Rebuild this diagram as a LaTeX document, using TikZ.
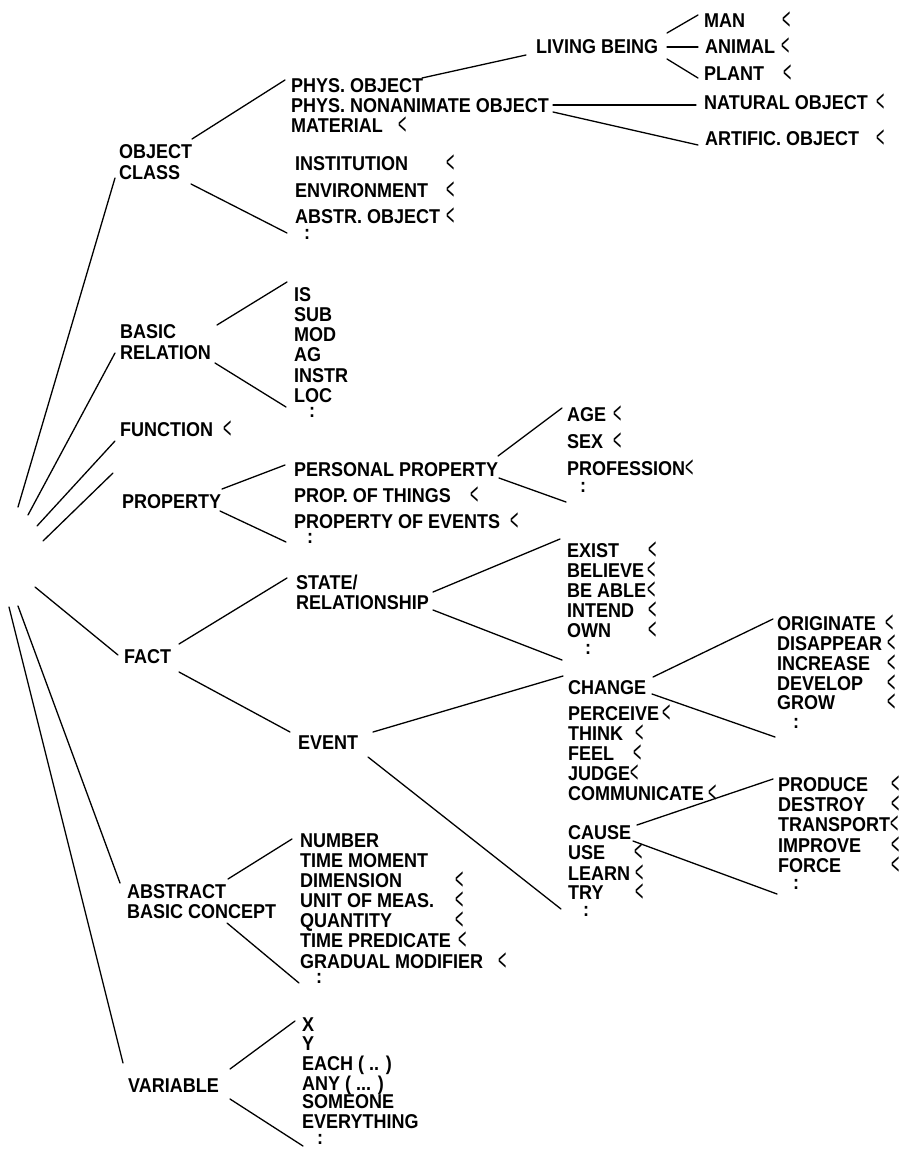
\documentclass[tikz,border=0pt]{standalone}
\usepackage{fontspec}
\usepackage{graphicx}
\setmainfont{Liberation Sans}[FakeStretch=0.9]
\newfontfamily\markfamily{Liberation Sans}
\newcommand\lblfont{\bfseries\fontsize{20}{21}\selectfont}
\newcommand\markfont{\markfamily\fontsize{19}{20}\selectfont}
\newcommand\lessmark{\raisebox{-2pt}{\scalebox{0.75}[1.6]{<}}}
\tikzset{
  lbl/.style={anchor=base west, inner sep=0pt, font=\lblfont},
  lm/.style={anchor=base west, inner sep=0pt, font=\markfont},
  cont/.style={anchor=center, inner sep=0pt, font=\lblfont},
  edge/.style={line width=1.3pt, line cap=round},
}
\begin{document}
\begin{tikzpicture}[x=1pt, y=-1pt]
\useasboundingbox (0,0) rectangle (900,1149);

% ---------------- first level ----------------
\node[lbl] (objA) at (119,158) {OBJECT};
\node[lbl] (objB) at (119,179) {CLASS};
\node[lbl] (relA) at (120,338) {BASIC};
\node[lbl] (relB) at (120,359) {RELATION};
\node[lbl] (func) at (120,436) {FUNCTION};
\node[lm]  (funcm) at (223,436) {\lessmark};
\node[lbl] (prop) at (122,508) {PROPERTY};
\node[lbl] (fact) at (124,663) {FACT};
\node[lbl] (absA) at (127,898) {ABSTRACT};
\node[lbl] (absB) at (127,918) {BASIC CONCEPT};
\node[lbl] (var)  at (128,1092) {VARIABLE};

% root fan
\coordinate (r1) at (18,507);  \coordinate (r1e) at (115,178);
\coordinate (r2) at (28,515);  \coordinate (r2e) at (115,353);
\coordinate (r3) at (37,526);  \coordinate (r3e) at (115,441);
\coordinate (r4) at (43,541);  \coordinate (r4e) at (113,473);
\coordinate (r5) at (35,587);  \coordinate (r5e) at (118,655);
\coordinate (r6) at (18,606);  \coordinate (r6e) at (120,883);
\coordinate (r7) at (9,607);   \coordinate (r7e) at (123,1063);
\foreach \i in {1,...,7} \draw[edge] (r\i) -- (r\i e);

% ---------------- object class ----------------
\node[lbl] (pobj) at (291,92)  {PHYS. OBJECT};
\node[lbl] (pnon) at (291,112) {PHYS. NONANIMATE OBJECT};
\node[lbl] (mat)  at (291,132) {MATERIAL};
\node[lm]  (matm) at (398,132) {\lessmark};
\node[lbl] (inst) at (295,170) {INSTITUTION};
\node[lm]  (instm) at (446,170) {\lessmark};
\node[lbl] (env)  at (295,197) {ENVIRONMENT};
\node[lm]  (envm) at (446,197) {\lessmark};
\node[lbl] (aobj) at (295,223) {ABSTR. OBJECT};
\node[lm]  (aobjm) at (446,223) {\lessmark};
\node[cont] (objc) at (307,234) {:};

\node[lbl] (liv) at (536,53) {LIVING BEING};
\node[lbl] (man) at (704,27) {MAN};
\node[lm]  (manm) at (782,27) {\lessmark};
\node[lbl] (ani) at (705,53) {ANIMAL};
\node[lm]  (anim) at (781,53) {\lessmark};
\node[lbl] (pla) at (704,80) {PLANT};
\node[lm]  (plam) at (783,80) {\lessmark};
\node[lbl] (nat) at (704,109) {NATURAL OBJECT};
\node[lm]  (natm) at (876,109) {\lessmark};
\node[lbl] (art) at (705,145) {ARTIFIC. OBJECT};
\node[lm]  (artm) at (876,145) {\lessmark};

\coordinate (oc1) at (192,139); \coordinate (oc1e) at (285,80);
\coordinate (oc2) at (191,184); \coordinate (oc2e) at (287,233);
\coordinate (po1) at (422,78);  \coordinate (po1e) at (526,55);
\coordinate (lb1) at (667,33);  \coordinate (lb1e) at (698,15);
\coordinate (lb2) at (667,47);  \coordinate (lb2e) at (698,47);
\coordinate (lb3) at (667,59);  \coordinate (lb3e) at (698,78);
\coordinate (pn1) at (553,105); \coordinate (pn1e) at (696,105);
\coordinate (pn2) at (553,112); \coordinate (pn2e) at (698,145);
\foreach \a in {oc1,oc2,po1,lb1,lb2,lb3,pn1,pn2} \draw[edge] (\a) -- (\a e);

% ---------------- basic relation ----------------
\node[lbl] (is)  at (294,301) {IS};
\node[lbl] (sub) at (294,321) {SUB};
\node[lbl] (mod) at (294,341) {MOD};
\node[lbl] (ag)  at (294,361) {AG};
\node[lbl] (ins) at (294,382) {INSTR};
\node[lbl] (loc) at (294,402) {LOC};
\node[cont] (relc) at (312,412) {:};
\coordinate (br1) at (217,325); \coordinate (br1e) at (287,282);
\coordinate (br2) at (215,363); \coordinate (br2e) at (286,407);
\draw[edge] (br1) -- (br1e);
\draw[edge] (br2) -- (br2e);

% ---------------- property ----------------
\node[lbl] (pers) at (294,476) {PERSONAL PROPERTY};
\node[lbl] (thin) at (294,502) {PROP. OF THINGS};
\node[lm]  (thinm) at (470,502) {\lessmark};
\node[lbl] (evp)  at (294,528) {PROPERTY OF EVENTS};
\node[lm]  (evpm) at (510,528) {\lessmark};
\node[cont] (propc) at (310,538) {:};
\node[lbl] (age) at (567,421) {AGE};
\node[lm]  (agem) at (613,421) {\lessmark};
\node[lbl] (sex) at (567,448) {SEX};
\node[lm]  (sexm) at (613,448) {\lessmark};
\node[lbl] (prof) at (567,475) {PROFESSION};
\node[lm]  (profm) at (685,475) {\lessmark};
\node[cont] (persc) at (583,487) {:};
\coordinate (pr1) at (222,489); \coordinate (pr1e) at (285,465);
\coordinate (pr2) at (220,511); \coordinate (pr2e) at (286,542);
\coordinate (pp1) at (498,456); \coordinate (pp1e) at (562,408);
\coordinate (pp2) at (499,478); \coordinate (pp2e) at (566,502);
\foreach \a in {pr1,pr2,pp1,pp2} \draw[edge] (\a) -- (\a e);

% ---------------- fact ----------------
\node[lbl] (stA) at (296,589) {STATE/};
\node[lbl] (stB) at (296,609) {RELATIONSHIP};
\node[lbl] (event) at (298,749) {EVENT};

\node[lbl] (exist) at (567,557) {EXIST};
\node[lm]  (existm) at (648,557) {\lessmark};
\node[lbl] (beli) at (567,577) {BELIEVE};
\node[lm]  (belim) at (647,577) {\lessmark};
\node[lbl] (able) at (567,597) {BE ABLE};
\node[lm]  (ablem) at (647,597) {\lessmark};
\node[lbl] (inte) at (567,617) {INTEND};
\node[lm]  (intem) at (648,617) {\lessmark};
\node[lbl] (own) at (567,637) {OWN};
\node[lm]  (ownm) at (648,637) {\lessmark};
\node[cont] (stc) at (588,649) {:};

\node[lbl] (chg) at (568,694) {CHANGE};
\node[lbl] (perc) at (568,720) {PERCEIVE};
\node[lm]  (percm) at (662,720) {\lessmark};
\node[lbl] (thk) at (568,740) {THINK};
\node[lm]  (thkm) at (635,740) {\lessmark};
\node[lbl] (feel) at (568,760) {FEEL};
\node[lm]  (feelm) at (633,760) {\lessmark};
\node[lbl] (judg) at (568,780) {JUDGE};
\node[lm]  (judgm) at (630,780) {\lessmark};
\node[lbl] (comm) at (568,800) {COMMUNICATE};
\node[lm]  (commm) at (708,800) {\lessmark};
\node[lbl] (caus) at (568,839) {CAUSE};
\node[lbl] (use) at (568,859) {USE};
\node[lm]  (usem) at (634,859) {\lessmark};
\node[lbl] (lrn) at (568,880) {LEARN};
\node[lm]  (lrnm) at (635,880) {\lessmark};
\node[lbl] (try) at (568,899) {TRY};
\node[lm]  (trym) at (635,899) {\lessmark};
\node[cont] (evc) at (586,911) {:};

\node[lbl] (orig) at (777,630) {ORIGINATE};
\node[lm]  (origm) at (885,630) {\lessmark};
\node[lbl] (disa) at (777,650) {DISAPPEAR};
\node[lm]  (disam) at (887,650) {\lessmark};
\node[lbl] (incr) at (777,670) {INCREASE};
\node[lm]  (incrm) at (887,670) {\lessmark};
\node[lbl] (devl) at (777,690) {DEVELOP};
\node[lm]  (devlm) at (887,690) {\lessmark};
\node[lbl] (grow) at (777,709) {GROW};
\node[lm]  (growm) at (887,709) {\lessmark};
\node[cont] (chgc) at (796,723) {:};

\node[lbl] (prod) at (778,791) {PRODUCE};
\node[lm]  (prodm) at (891,791) {\lessmark};
\node[lbl] (dest) at (778,811) {DESTROY};
\node[lm]  (destm) at (891,811) {\lessmark};
\node[lbl] (trsp) at (778,831) {TRANSPORT};
\node[lm]  (trspm) at (890,831) {\lessmark};
\node[lbl] (impr) at (778,852) {IMPROVE};
\node[lm]  (imprm) at (891,852) {\lessmark};
\node[lbl] (forc) at (778,872) {FORCE};
\node[lm]  (forcm) at (891,872) {\lessmark};
\node[cont] (causc) at (796,884) {:};

\coordinate (fa1) at (179,644); \coordinate (fa1e) at (287,578);
\coordinate (fa2) at (179,672); \coordinate (fa2e) at (290,732);
\coordinate (sr1) at (433,592); \coordinate (sr1e) at (560,539);
\coordinate (sr2) at (433,610); \coordinate (sr2e) at (562,660);
\coordinate (ev1) at (373,732); \coordinate (ev1e) at (563,676);
\coordinate (ev2) at (368,757); \coordinate (ev2e) at (561,909);
\coordinate (ch1) at (653,677); \coordinate (ch1e) at (773,619);
\coordinate (ch2) at (652,694); \coordinate (ch2e) at (775,737);
\coordinate (ca1) at (637,825); \coordinate (ca1e) at (773,779);
\coordinate (ca2) at (633,841); \coordinate (ca2e) at (777,894);
\foreach \a in {fa1,fa2,sr1,sr2,ev1,ev2,ch1,ch2,ca1,ca2} \draw[edge] (\a) -- (\a e);

% ---------------- abstract basic concept ----------------
\node[lbl] (num) at (300,847) {NUMBER};
\node[lbl] (tmom) at (300,867) {TIME MOMENT};
\node[lbl] (dim) at (300,887) {DIMENSION};
\node[lm]  (dimm) at (455,887) {\lessmark};
\node[lbl] (unit) at (300,907) {UNIT OF MEAS.};
\node[lm]  (unitm) at (455,907) {\lessmark};
\node[lbl] (qty) at (300,927) {QUANTITY};
\node[lm]  (qtym) at (455,927) {\lessmark};
\node[lbl] (tpre) at (300,947) {TIME PREDICATE};
\node[lm]  (tprem) at (458,947) {\lessmark};
\node[lbl] (grad) at (300,968) {GRADUAL MODIFIER};
\node[lm]  (gradm) at (498,968) {\lessmark};
\node[cont] (absc) at (319,978) {:};
\coordinate (ab1) at (228,879); \coordinate (ab1e) at (292,839);
\coordinate (ab2) at (227,923); \coordinate (ab2e) at (299,983);
\draw[edge] (ab1) -- (ab1e);
\draw[edge] (ab2) -- (ab2e);

% ---------------- variable ----------------
\node[lbl] (vx) at (302,1031) {X};
\node[lbl] (vy) at (302,1050) {Y};
\node[lbl] (each) at (302,1070) {EACH ( .. )};
\node[lbl] (any) at (302,1090) {ANY ( ... )};
\node[lbl] (some) at (302,1108) {SOMEONE};
\node[lbl] (every) at (302,1128) {EVERYTHING};
\node[cont] (varc) at (320,1139) {:};
\coordinate (va1) at (230,1069); \coordinate (va1e) at (295,1021);
\coordinate (va2) at (230,1099); \coordinate (va2e) at (303,1146);
\draw[edge] (va1) -- (va1e);
\draw[edge] (va2) -- (va2e);
\end{tikzpicture}
\end{document}
